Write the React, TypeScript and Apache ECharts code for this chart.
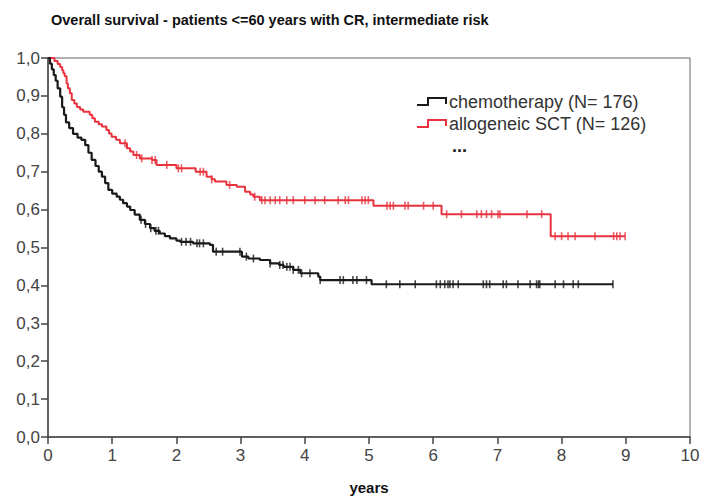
import React, { useEffect, useRef } from "react";
import * as echarts from "echarts";

const chartTitle = "Overall survival - patients <=60 years with CR, intermediate risk";
const xAxisName = "years";
const seriesNames = ["chemotherapy (N= 176)", "allogeneic SCT (N= 126)"];

// Kaplan-Meier steps: time (years) and survival after the drop at that time
const chemoTimes = [0, 0.03, 0.06, 0.09, 0.12, 0.15, 0.19, 0.22, 0.25, 0.28, 0.33, 0.39, 0.46, 0.52, 0.58, 0.63, 0.68, 0.74, 0.79, 0.84, 0.89, 0.94, 1.0, 1.07, 1.12, 1.17, 1.23, 1.28, 1.35, 1.43, 1.51, 1.59, 1.66, 1.74, 1.82, 1.9, 2.0, 2.06, 2.26, 2.52, 2.57, 3.02, 3.12, 3.3, 3.46, 3.6, 3.67, 3.82, 3.93, 4.21, 4.24, 5.04, 8.8];
const chemoSurv = [1.0, 0.985, 0.97, 0.955, 0.94, 0.92, 0.898, 0.87, 0.85, 0.83, 0.815, 0.8, 0.79, 0.784, 0.77, 0.75, 0.731, 0.715, 0.7, 0.687, 0.67, 0.652, 0.642, 0.634, 0.626, 0.617, 0.608, 0.599, 0.587, 0.573, 0.562, 0.551, 0.544, 0.537, 0.53, 0.524, 0.518, 0.515, 0.511, 0.507, 0.489, 0.476, 0.471, 0.467, 0.458, 0.454, 0.449, 0.441, 0.432, 0.423, 0.414, 0.403, 0.403];

const alloTimes = [0, 0.1, 0.15, 0.19, 0.22, 0.24, 0.26, 0.29, 0.31, 0.34, 0.37, 0.41, 0.45, 0.5, 0.55, 0.65, 0.69, 0.73, 0.79, 0.84, 0.91, 0.95, 0.99, 1.06, 1.12, 1.23, 1.28, 1.33, 1.43, 1.62, 1.69, 2.0, 2.3, 2.47, 2.55, 2.6, 2.78, 2.94, 3.07, 3.15, 3.2, 3.3, 5.07, 6.13, 7.83, 8.99];
const alloSurv = [1.0, 0.992, 0.984, 0.976, 0.968, 0.96, 0.952, 0.933, 0.92, 0.907, 0.889, 0.88, 0.871, 0.864, 0.858, 0.85, 0.841, 0.832, 0.825, 0.819, 0.81, 0.801, 0.792, 0.784, 0.775, 0.762, 0.753, 0.744, 0.735, 0.731, 0.718, 0.709, 0.7, 0.687, 0.68, 0.674, 0.665, 0.66, 0.647, 0.64, 0.634, 0.625, 0.61, 0.588, 0.53, 0.53];

// Censoring times (years)
const chemoCensored = [1.45, 1.52, 1.6, 1.68, 1.72, 2.08, 2.15, 2.22, 2.32, 2.36, 2.42, 2.62, 2.72, 2.99, 3.09, 3.2, 3.46, 3.61, 3.66, 3.72, 3.77, 3.82, 3.9, 3.95, 4.08, 4.24, 4.55, 4.6, 4.75, 4.81, 4.96, 5.27, 5.48, 5.72, 6.05, 6.11, 6.18, 6.23, 6.26, 6.31, 6.39, 6.78, 6.83, 6.88, 7.09, 7.14, 7.32, 7.51, 7.61, 7.64, 7.66, 7.9, 8.03, 8.18, 8.26, 8.8];
const alloCensored = [1.2, 1.38, 1.46, 1.62, 1.67, 1.85, 2.03, 2.08, 2.37, 2.42, 2.55, 2.83, 3.22, 3.33, 3.38, 3.46, 3.54, 3.61, 3.72, 3.82, 4.0, 4.16, 4.31, 4.52, 4.63, 4.68, 4.89, 4.94, 4.99, 5.28, 5.33, 5.38, 5.56, 5.61, 5.85, 6.0, 6.21, 6.44, 6.68, 6.75, 6.83, 6.91, 7.01, 7.04, 7.46, 7.69, 7.9, 8.0, 8.1, 8.21, 8.52, 8.81, 8.86, 8.91, 8.99];

const colors = ["#1a1a1a", "#e8333f"];
const FONT = "Liberation Sans, Arial, sans-serif";

function survAt(times: number[], surv: number[], t: number): number {
  let s = surv[0];
  for (let i = 0; i < times.length; i++) {
    if (times[i] <= t) s = surv[i];
    else break;
  }
  return s;
}

export default function App() {
  const ref = useRef<HTMLDivElement>(null);
  useEffect(() => {
    if (!ref.current) return;
    const chart = echarts.init(ref.current, undefined, { renderer: "svg" });
    const stepData = (times: number[], surv: number[]) => times.map((t, i) => [t, surv[i]]);
    const censorData = (c: number[], times: number[], surv: number[]) => c.map((t) => [t, survAt(times, surv, t)]);
    const legendIcon = (y: number, color: string) => ({
      type: "polyline",
      shape: { points: [[417, y + 3], [428, y + 3], [428, y - 4], [446, y - 4], [446, y + 2]] },
      style: { stroke: color, lineWidth: 2, fill: "none" },
    });
    const legendText = (y: number, text: string, extra: any = {}) => ({
      type: "text",
      x: 449,
      y,
      style: { text, fontFamily: FONT, fontSize: 18, fill: "#333", verticalAlign: "middle", ...extra },
    });
    chart.setOption({
      animation: false,
      backgroundColor: "#ffffff",
      title: {
        text: chartTitle,
        left: 46,
        top: 7,
        textStyle: { fontFamily: FONT, fontWeight: "bold", fontSize: 14.5, color: "#111" },
      },
      grid: {
        left: 48,
        right: 11,
        top: 58,
        bottom: 60,
        show: true,
        borderColor: "#666",
        borderWidth: 1,
        backgroundColor: "transparent",
        containLabel: false,
        outerBoundsMode: "none",
      },
      xAxis: {
        type: "value",
        min: 0,
        max: 10,
        interval: 1,
        name: xAxisName,
        nameLocation: "middle",
        nameGap: 43,
        nameTextStyle: { fontFamily: FONT, fontWeight: "bold", fontSize: 15, color: "#111" },
        axisLine: { show: true, lineStyle: { color: "#444", width: 1.5 } },
        axisTick: { show: true, length: 7, lineStyle: { color: "#444", width: 1.5 } },
        axisLabel: { fontFamily: FONT, fontSize: 17, color: "#444", margin: 10 },
        splitLine: { show: false },
      },
      yAxis: {
        type: "value",
        min: 0,
        max: 1,
        interval: 0.1,
        axisLine: { show: true, lineStyle: { color: "#444", width: 1.5 } },
        axisTick: { show: true, length: 7, lineStyle: { color: "#444", width: 1.5 } },
        axisLabel: {
          fontFamily: FONT,
          fontSize: 17,
          color: "#444",
          margin: 8,
          formatter: (v: number) => v.toFixed(1).replace(".", ","),
        },
        splitLine: { show: false },
      },
      graphic: [
        legendIcon(102, colors[0]),
        legendIcon(124, colors[1]),
        legendText(102, seriesNames[0]),
        legendText(124, seriesNames[1]),
        { type: "text", x: 452, y: 146, style: { text: "...", fontFamily: FONT, fontSize: 18, fontWeight: "bold", fill: "#222", verticalAlign: "middle" } },
      ],
      series: [
        {
          name: seriesNames[0],
          type: "line",
          step: "end",
          data: stepData(chemoTimes, chemoSurv),
          showSymbol: false,
          lineStyle: { color: colors[0], width: 2.2 },
          z: 3,
        },
        {
          name: seriesNames[1],
          type: "line",
          step: "end",
          data: stepData(alloTimes, alloSurv),
          showSymbol: false,
          lineStyle: { color: colors[1], width: 2 },
          z: 2,
        },
        {
          type: "scatter",
          data: censorData(chemoCensored, chemoTimes, chemoSurv),
          symbol: "rect",
          symbolSize: [1.6, 8],
          itemStyle: { color: colors[0] },
          z: 4,
        },
        {
          type: "scatter",
          data: censorData(alloCensored, alloTimes, alloSurv),
          symbol: "rect",
          symbolSize: [1.6, 8],
          itemStyle: { color: colors[1] },
          z: 3,
        },
      ],
    });
    return () => chart.dispose();
  }, []);
  return <div ref={ref} style={{ width: 701, height: 497, position: "absolute", left: 0, top: 0 }} />;
}
